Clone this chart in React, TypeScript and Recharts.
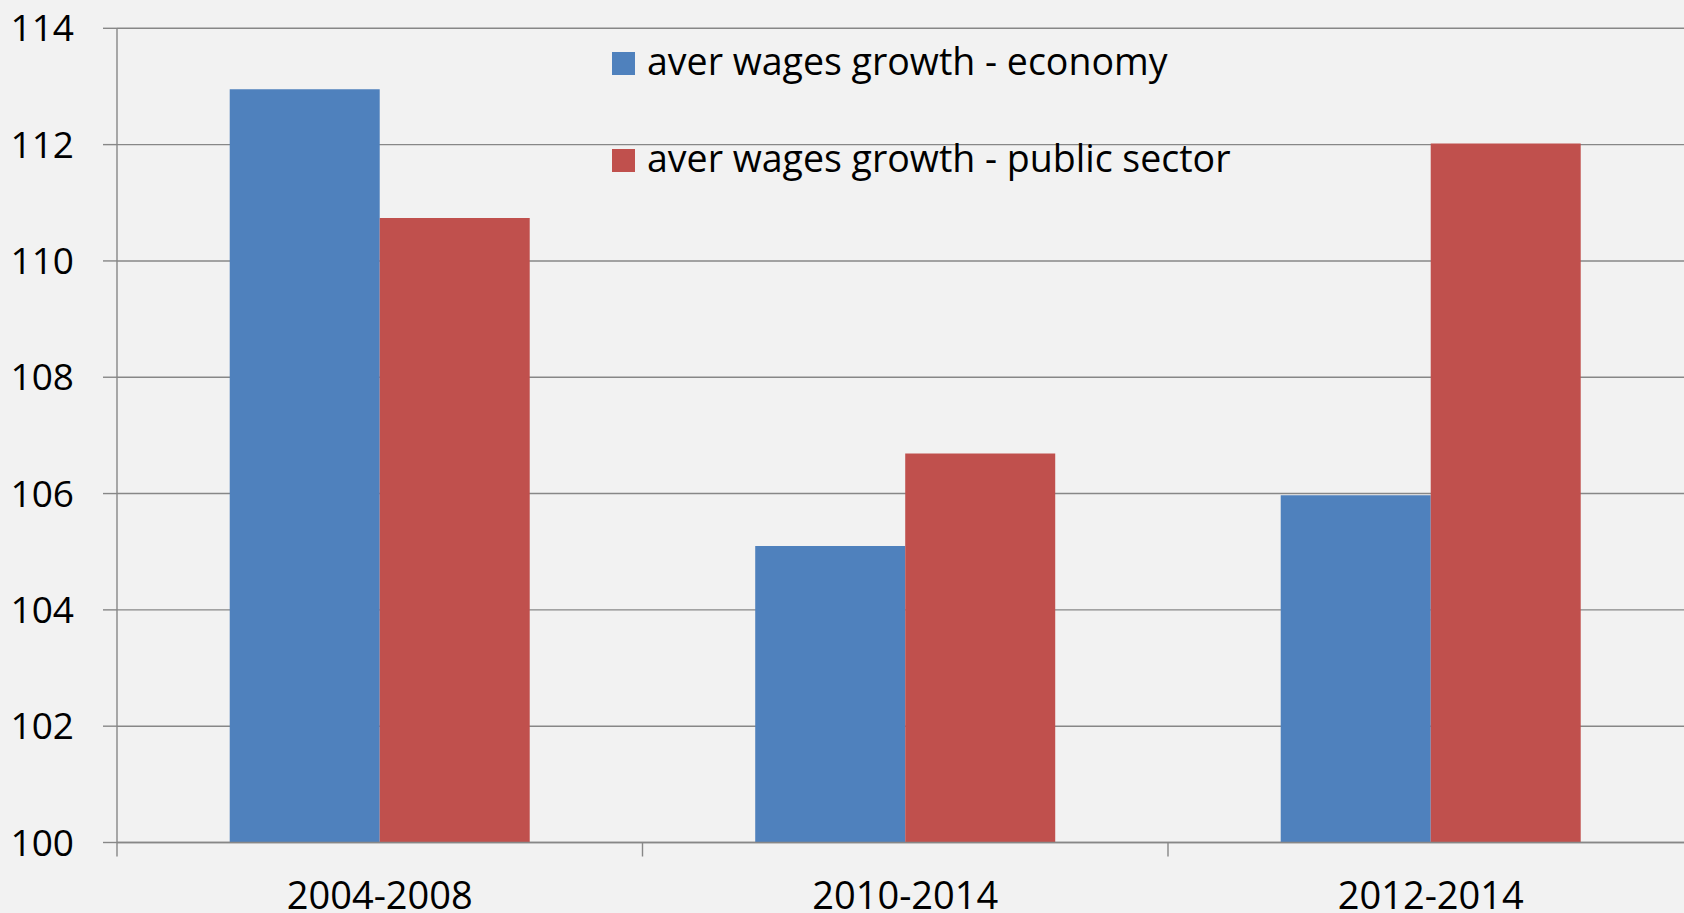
import React from 'react';
import { BarChart, Bar, XAxis, YAxis, CartesianGrid, Legend } from 'recharts';

const categories = ['2004-2008', '2010-2014', '2012-2014'];
const economyValues = [112.95, 105.1, 105.97];
const publicSectorValues = [110.74, 106.69, 112.02];
const seriesNames = ['aver wages growth - economy', 'aver wages growth - public sector'];
const yTicks = [100, 102, 104, 106, 108, 110, 112, 114];

const data = categories.map((c, i) => ({
  cat: c,
  economy: economyValues[i],
  publicSector: publicSectorValues[i],
}));

const FONT = '"Open Sans", sans-serif';
const AXIS = '#878787';
const CHART_W = 1720;
const CHART_H = 913;
const MARGIN = { top: 28.3, right: 26.5, bottom: 0, left: 0 };
const Y_W = 117;
const X_H = 70.5;
const FALLBACK_HALF = (CHART_W - MARGIN.left - MARGIN.right - Y_W) / categories.length / 2;

const XTick = (props: any) => {
  const { x, y, payload } = props;
  const half = payload && typeof payload.offset === 'number' && payload.offset > 2 ? payload.offset : FALLBACK_HALF;
  return (
    <g>
      <line x1={x - half} x2={x - half} y1={y} y2={y + 14} stroke={AXIS} strokeWidth={1.4} />
      <text x={x} y={y + 66} textAnchor="middle" fill="#000" fontSize={38} fontFamily={FONT}>
        {payload.value}
      </text>
    </g>
  );
};

const LegendContent = (props: any) => {
  const { payload } = props;
  return (
    <svg width={1400} height={200} style={{ display: 'block' }}>
      {(payload || []).map((p: any, i: number) => (
        <g key={i}>
          <rect x={612} y={52 + 97 * i} width={23} height={23} fill={p.color} />
          <text x={647} y={74.5 + 97 * i} fill="#000" fontSize={37.5} fontFamily={FONT}>
            {p.value}
          </text>
        </g>
      ))}
    </svg>
  );
};

export default function App() {
  return (
    <div
      style={{
        position: 'absolute',
        left: 0,
        top: 0,
        width: 1684,
        height: 913,
        overflow: 'hidden',
        background: '#f2f2f2',
      }}
    >
      <BarChart
        width={CHART_W}
        height={CHART_H}
        data={data}
        margin={MARGIN}
        barCategoryGap="21.45%"
        barGap={0}
      >
        <CartesianGrid vertical={false} stroke={AXIS} strokeWidth={1.4} />
        <XAxis
          dataKey="cat"
          height={X_H}
          tickSize={0}
          tickMargin={0}
          tickLine={false}
          axisLine={{ stroke: AXIS, strokeWidth: 1.4 }}
          tick={<XTick />}
          interval={0}
        />
        <YAxis
          width={Y_W}
          domain={[100, 114]}
          ticks={yTicks}
          interval={0}
          tickSize={14}
          tickMargin={29}
          tickLine={{ stroke: AXIS, strokeWidth: 1.4 }}
          axisLine={{ stroke: AXIS, strokeWidth: 1.4 }}
          tick={{ fill: '#000', fontSize: 37, fontFamily: FONT }}
        />
        <Legend
          layout="vertical"
          verticalAlign="middle"
          align="center"
          wrapperStyle={{ left: 0, top: 0, width: 1400, height: 200 }}
          content={<LegendContent />}
        />
        <Bar dataKey="economy" name={seriesNames[0]} fill="#4f81bd" isAnimationActive={false} />
        <Bar dataKey="publicSector" name={seriesNames[1]} fill="#c0504d" isAnimationActive={false} />
      </BarChart>
    </div>
  );
}
